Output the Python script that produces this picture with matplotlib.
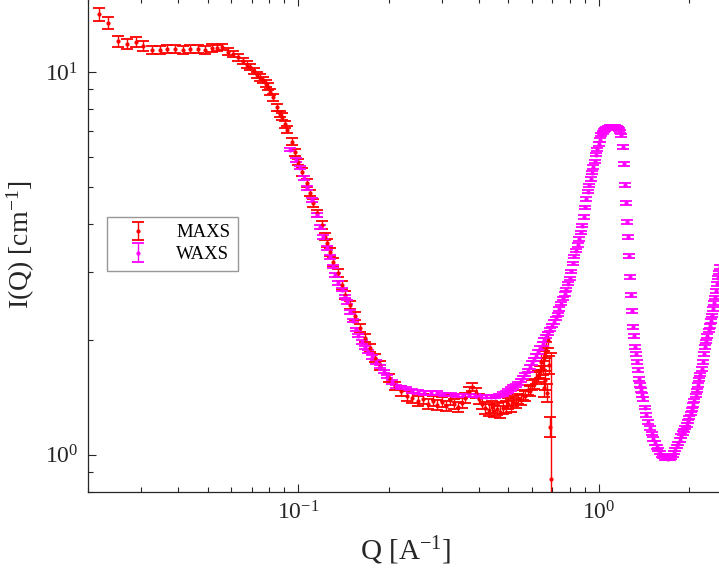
import matplotlib
matplotlib.use("Agg")
import matplotlib.pyplot as plt

plt.rcParams['font.family'] = ['Liberation Serif', 'DejaVu Serif']
plt.rcParams['mathtext.fontset'] = 'stix'
plt.rcParams['mathtext.default'] = 'regular'

# MAXS data (red)
maxs_q = [0.0218, 0.0234, 0.02526, 0.02706, 0.02878, 0.03039, 0.03256, 0.03461, 0.03652, 0.03884,
          0.04130, 0.04358, 0.04635, 0.04892, 0.05162, 0.05364, 0.05573, 0.05838, 0.06067, 0.06305,
          0.06553, 0.06757, 0.06915, 0.07132, 0.07298, 0.07468, 0.07642, 0.07820, 0.07942, 0.08065,
          0.08253, 0.08511, 0.08709, 0.08845, 0.09050, 0.09191, 0.09550, 0.09772, 0.1000, 0.1031,
          0.1072, 0.1097, 0.1122, 0.1157, 0.1202, 0.1231, 0.1250, 0.1279, 0.1309, 0.1360,
          0.1402, 0.1435, 0.1491, 0.1550, 0.1611, 0.1674, 0.1739, 0.1807, 0.1878,
          0.20, 0.21, 0.22, 0.23, 0.24, 0.25, 0.26, 0.27, 0.28, 0.29,
          0.30, 0.31, 0.32, 0.33, 0.34, 0.35, 0.36, 0.37, 0.38, 0.39,
          0.40, 0.41, 0.42, 0.43, 0.44, 0.45, 0.46, 0.47, 0.48, 0.49,
          0.50, 0.51, 0.52, 0.53, 0.54, 0.55, 0.56, 0.57, 0.58, 0.59,
          0.60, 0.61, 0.62, 0.63, 0.64, 0.645, 0.65, 0.655, 0.66, 0.665,
          0.67, 0.675, 0.68, 0.684, 0.687, 0.694]
maxs_I = [14.17, 13.43, 12.05, 11.83, 11.97, 11.69, 11.41, 11.41, 11.48, 11.48,
          11.41, 11.48, 11.48, 11.41, 11.55, 11.55, 11.62, 11.28, 11.14, 10.94,
          10.68, 10.43, 10.30, 10.06, 9.82, 9.65, 9.53, 9.31, 9.14, 8.87,
          8.60, 8.10, 7.77, 7.63, 7.31, 7.06, 6.57, 6.18, 5.82, 5.48,
          5.13, 4.83, 4.55, 4.28, 3.99, 3.71, 3.58, 3.39, 3.19, 2.99,
          2.78, 2.62, 2.46, 2.31, 2.15, 2.02, 1.90, 1.79, 1.71,
          1.589, 1.514, 1.469, 1.426, 1.409, 1.383, 1.400, 1.359, 1.383, 1.350,
          1.375, 1.342, 1.392, 1.359, 1.334, 1.367, 1.409, 1.460, 1.505, 1.451,
          1.400, 1.359, 1.326, 1.311, 1.334, 1.303, 1.318, 1.295, 1.326, 1.334,
          1.359, 1.342, 1.383, 1.367, 1.400, 1.392, 1.434, 1.426, 1.478, 1.469,
          1.523, 1.532, 1.589, 1.607, 1.647, 1.749, 1.688, 1.496, 1.791, 1.570,
          1.880, 1.451, 1.996, 1.718, 1.183, 0.866]
maxs_err = [0.55, 0.45, 0.40, 0.35, 0.35, 0.32, 0.30, 0.28, 0.28, 0.27,
            0.26, 0.26, 0.25, 0.25, 0.25, 0.24, 0.24, 0.24, 0.23, 0.23,
            0.22, 0.22, 0.21, 0.21, 0.20, 0.20, 0.19, 0.19, 0.19, 0.18,
            0.18, 0.17, 0.16, 0.16, 0.15, 0.15, 0.14, 0.13, 0.12, 0.12,
            0.11, 0.10, 0.10, 0.09, 0.09, 0.08, 0.08, 0.075, 0.07, 0.07,
            0.065, 0.06, 0.06, 0.055, 0.05, 0.05, 0.045, 0.045, 0.045,
            0.04, 0.04, 0.04, 0.04, 0.04, 0.04, 0.04, 0.04, 0.04, 0.04,
            0.04, 0.04, 0.04, 0.04, 0.04, 0.04, 0.04, 0.04, 0.04, 0.04,
            0.045, 0.045, 0.045, 0.045, 0.045, 0.045, 0.045, 0.045, 0.045, 0.045,
            0.045, 0.045, 0.045, 0.045, 0.045, 0.045, 0.045, 0.045, 0.045, 0.045,
            0.05, 0.05, 0.055, 0.055, 0.06, 0.08, 0.07, 0.08, 0.08, 0.09,
            0.09, 0.08, 0.10, 0.09, 0.07, 0.98]

# WAXS data (magenta)
waxs_q = [0.0940, 0.0985, 0.1015, 0.1047, 0.1072, 0.1114, 0.1157, 0.1184, 0.1212, 0.1250,
          0.1279, 0.1309, 0.1329, 0.1360, 0.1402, 0.1435, 0.1457, 0.1491, 0.1526, 0.1562,
          0.1586, 0.1635, 0.1674, 0.1713, 0.1767, 0.1822, 0.1878, 0.1937, 0.1982, 0.2060,
          0.2124, 0.2191, 0.2277, 0.2384, 0.2496, 0.2615, 0.2759, 0.2889, 0.3048, 0.3218,
          0.3369, 0.3528, 0.3694, 0.3869, 0.4052, 0.4210, 0.4375, 0.4512, 0.4653,
          0.48, 0.49, 0.50, 0.51, 0.52, 0.53, 0.54, 0.55, 0.56, 0.57,
          0.58, 0.59, 0.60, 0.61, 0.62, 0.63, 0.64, 0.65, 0.66, 0.67,
          0.68, 0.69, 0.70, 0.71, 0.72, 0.73, 0.74, 0.75, 0.76, 0.77,
          0.78, 0.79, 0.80, 0.81, 0.82, 0.83, 0.84, 0.85, 0.86, 0.87,
          0.88, 0.89, 0.90, 0.91, 0.92, 0.93, 0.94, 0.95, 0.96, 0.97,
          0.98, 0.99, 1.00, 1.01, 1.02, 1.03, 1.04, 1.05, 1.06, 1.07,
          1.08, 1.09, 1.10, 1.11, 1.12, 1.13, 1.14, 1.15, 1.16, 1.17,
          1.18, 1.19,
          1.20, 1.21, 1.22, 1.23, 1.24, 1.25, 1.26, 1.27, 1.28, 1.29,
          1.30, 1.31, 1.32, 1.33, 1.34, 1.35, 1.36, 1.37, 1.38, 1.39,
          1.40,
          1.42, 1.44, 1.46, 1.48, 1.50, 1.52, 1.54, 1.56,
          1.58, 1.60, 1.62, 1.64, 1.66, 1.68, 1.70, 1.72, 1.74, 1.76,
          1.78, 1.80, 1.82, 1.84, 1.86, 1.88, 1.90, 1.92, 1.94, 1.96,
          1.98, 2.00, 2.02, 2.04, 2.06, 2.08, 2.10, 2.12, 2.14, 2.16,
          2.18, 2.20, 2.22, 2.24, 2.26, 2.28, 2.30, 2.32, 2.34, 2.36,
          2.38, 2.40, 2.42, 2.44, 2.46, 2.48, 2.50, 2.52, 2.54]
waxs_I = [6.26, 5.89, 5.62, 5.29, 4.98, 4.63, 4.23, 3.94, 3.71, 3.47,
          3.29, 3.10, 2.95, 2.81, 2.70, 2.59, 2.51, 2.36, 2.24, 2.13,
          2.05, 1.97, 1.91, 1.86, 1.80, 1.75, 1.70, 1.65, 1.60, 1.55,
          1.51, 1.50, 1.49, 1.47, 1.46, 1.45, 1.45, 1.45, 1.44, 1.44,
          1.43, 1.43, 1.43, 1.43, 1.42, 1.42, 1.42, 1.42, 1.43,
          1.443, 1.455, 1.468, 1.486, 1.503, 1.521, 1.538, 1.562, 1.590, 1.624,
          1.659, 1.698, 1.737, 1.774, 1.813, 1.855, 1.902, 1.949, 1.995, 2.035,
          2.076, 2.125, 2.174, 2.222, 2.273, 2.331, 2.404, 2.483, 2.561, 2.633,
          2.708, 2.802, 2.893, 3.014, 3.162, 3.300, 3.413, 3.530, 3.660, 3.813,
          3.970, 4.183, 4.434, 4.661, 4.870, 5.057, 5.259, 5.462, 5.649, 5.846,
          6.076, 6.284, 6.480, 6.645, 6.860, 6.948, 7.031, 7.082, 7.116, 7.142,
          7.159, 7.180, 7.184, 7.184, 7.184, 7.184, 7.168, 7.150, 7.121, 7.078,
          6.981, 6.827,
          6.372, 5.752, 5.070, 4.550, 4.059, 3.710, 3.308, 2.916, 2.617, 2.377,
          2.159, 2.045, 1.914, 1.835, 1.749, 1.667, 1.579, 1.523, 1.478, 1.434,
          1.400,
          1.327, 1.272, 1.219, 1.176, 1.135, 1.101, 1.075, 1.049,
          1.031, 1.014, 0.997, 0.989, 0.981, 0.979, 0.977, 0.979, 0.986, 0.998,
          1.013, 1.032, 1.052, 1.072, 1.093, 1.120, 1.141, 1.159, 1.179, 1.198,
          1.224, 1.251, 1.285, 1.316, 1.350, 1.386, 1.428, 1.472, 1.522, 1.571,
          1.621, 1.675, 1.749, 1.835, 1.914, 1.979, 2.045, 2.114, 2.172, 2.238,
          2.316, 2.404, 2.495, 2.577, 2.682, 2.793, 2.900, 2.992, 3.097]
waxs_err = [0.06, 0.06, 0.056, 0.053, 0.05, 0.046, 0.042, 0.039, 0.037, 0.035,
            0.033, 0.031, 0.03, 0.028, 0.027, 0.026, 0.025, 0.024, 0.022, 0.021,
            0.02, 0.02, 0.019, 0.019, 0.018, 0.018, 0.017, 0.017, 0.016, 0.016,
            0.015, 0.015, 0.015, 0.015, 0.015, 0.015, 0.015, 0.015, 0.015, 0.015,
            0.015, 0.015, 0.015, 0.015, 0.015, 0.015, 0.015, 0.015, 0.015,
            0.014, 0.015, 0.015, 0.015, 0.015, 0.015, 0.015, 0.016, 0.016, 0.016,
            0.017, 0.017, 0.017, 0.018, 0.018, 0.019, 0.019, 0.019, 0.020, 0.020,
            0.021, 0.021, 0.022, 0.022, 0.023, 0.023, 0.024, 0.025, 0.026, 0.026,
            0.027, 0.028, 0.029, 0.030, 0.032, 0.033, 0.034, 0.035, 0.037, 0.038,
            0.040, 0.042, 0.044, 0.047, 0.049, 0.051, 0.053, 0.055, 0.056, 0.058,
            0.061, 0.063, 0.065, 0.066, 0.069, 0.069, 0.070, 0.071, 0.071, 0.071,
            0.072, 0.072, 0.072, 0.072, 0.072, 0.072, 0.072, 0.072, 0.071, 0.071,
            0.070, 0.068,
            0.064, 0.058, 0.051, 0.046, 0.041, 0.037, 0.033, 0.029, 0.026, 0.024,
            0.022, 0.020, 0.019, 0.018, 0.017, 0.017, 0.016, 0.015, 0.015, 0.014,
            0.014,
            0.013, 0.013, 0.012, 0.012, 0.011, 0.011, 0.011, 0.010,
            0.010, 0.010, 0.010, 0.010, 0.010, 0.010, 0.010, 0.010, 0.010, 0.010,
            0.010, 0.010, 0.011, 0.011, 0.011, 0.011, 0.011, 0.012, 0.012, 0.012,
            0.012, 0.013, 0.013, 0.013, 0.014, 0.014, 0.014, 0.015, 0.015, 0.016,
            0.016, 0.017, 0.017, 0.018, 0.019, 0.020, 0.020, 0.021, 0.022, 0.022,
            0.023, 0.024, 0.025, 0.026, 0.027, 0.028, 0.029, 0.030, 0.031]

fig = plt.figure(figsize=(7.19, 5.75), dpi=100)
# axes run slightly past the right and top edges, as in the original export
ax = fig.add_axes([88 / 719, 83 / 575, 636 / 719, 494 / 575])

ax.errorbar(maxs_q, maxs_I, yerr=maxs_err, fmt='.', color='#ff0000', ms=4,
            elinewidth=1.0, capsize=4.5, capthick=1.3, label='MAXS')
ax.errorbar(waxs_q, waxs_I, yerr=waxs_err, fmt='.', color='#ff00ff', ms=4,
            elinewidth=1.0, capsize=4.5, capthick=1.3, label='WAXS')

ax.set_xscale('log')
ax.set_yscale('log')
ax.set_xlim(0.0200, 2.61)
ax.set_ylim(0.80, 15.6)

ax.set_xlabel('Q [A$^{-1}$]', fontsize=21, color='#262626', labelpad=7)
ax.set_ylabel('I(Q) [cm$^{-1}$]', fontsize=20, color='#262626', labelpad=6)

ax.tick_params(which='both', direction='in', top=True, right=False,
               colors='#262626', labelsize=17)
ax.tick_params(which='major', length=6, width=0.8, pad=7)
ax.tick_params(which='minor', length=3.5, width=0.8)
for sp in ax.spines.values():
    sp.set_color('#262626')
    sp.set_linewidth(0.9)

leg = ax.legend(loc='upper left', bbox_to_anchor=(0.030, 0.557), borderaxespad=0,
                fontsize=13.5, frameon=True, fancybox=False, handlelength=2.5,
                handletextpad=0.8, borderpad=0.4, labelspacing=0.25)
leg.get_frame().set_edgecolor('#7f7f7f')
leg.get_frame().set_linewidth(1.0)

fig.savefig('out.png', dpi=100)
